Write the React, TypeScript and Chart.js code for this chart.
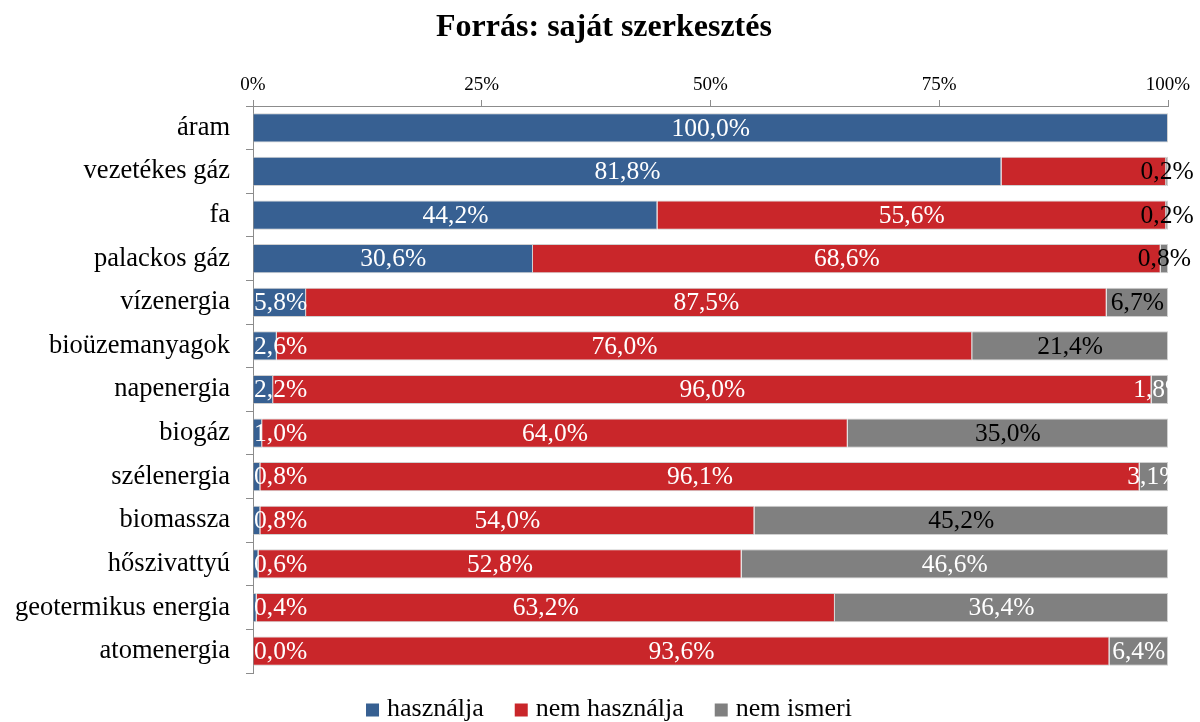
import React, { useEffect, useRef } from "react";
import { Chart, registerables } from "chart.js";

Chart.register(...registerables);

const categories = [
  "áram",
  "vezetékes gáz",
  "fa",
  "palackos gáz",
  "vízenergia",
  "bioüzemanyagok",
  "napenergia",
  "biogáz",
  "szélenergia",
  "biomassza",
  "hőszivattyú",
  "geotermikus energia",
  "atomenergia",
];

const hasznalja = [100.0, 81.8, 44.2, 30.6, 5.8, 2.6, 2.2, 1.0, 0.8, 0.8, 0.6, 0.4, 0.0];
const nemHasznalja = [0.0, 18.0, 55.6, 68.6, 87.5, 76.0, 96.0, 64.0, 96.1, 54.0, 52.8, 63.2, 93.6];
const nemIsmeri = [0.0, 0.2, 0.2, 0.8, 6.7, 21.4, 1.8, 35.0, 3.1, 45.2, 46.6, 36.4, 6.4];

// label text colours per series ("w" white, "k" black, "" hidden)
const hasznaljaLabelColors = ["w", "w", "w", "w", "w", "w", "w", "w", "w", "w", "w", "w", "w"];
const nemHasznaljaLabelColors = ["", "", "w", "w", "w", "w", "w", "w", "w", "w", "w", "w", "w"];
const nemIsmeriLabelColors = ["", "k", "k", "k", "k", "k", "w", "k", "w", "k", "w", "w", "w"];

const xTicks = ["0%", "25%", "50%", "75%", "100%"];

const titleText = "Forrás: saját szerkesztés";
const seriesNames = ["használja", "nem használja", "nem ismeri"];
const seriesColors = ["#376092", "#C9262A", "#808080"];

const SERIF = "'Liberation Serif', 'Times New Roman', serif";
const AXIS = "#8c8c8c";

const labelPlugin = {
  id: "segLabels",
  afterDatasetsDraw(chart: any) {
    const ctx = chart.ctx;
    const area = chart.chartArea;
    const colorSets = [hasznaljaLabelColors, nemHasznaljaLabelColors, nemIsmeriLabelColors];
    ctx.save();
    ctx.font = `25.5px ${SERIF}`;
    ctx.textAlign = "center";
    ctx.textBaseline = "middle";
    chart.data.datasets.forEach((ds: any, di: number) => {
      const meta = chart.getDatasetMeta(di);
      meta.data.forEach((el: any, i: number) => {
        const c = colorSets[di][i];
        if (!c) return;
        const v = ds.data[i] as number;
        const txt = v.toFixed(1).replace(".", ",") + "%";
        const w = ctx.measureText(txt).width;
        let cx = (el.x + el.base) / 2;
        if (c === "w") cx = Math.max(cx, area.left + w / 2 + 1);
        const cy = el.y + 1;
        ctx.save();
        if (c === "w") {
          ctx.beginPath();
          ctx.rect(area.left, area.top, area.right - area.left, area.bottom - area.top);
          ctx.clip();
        }
        ctx.fillStyle = c === "w" ? "#ffffff" : "#000000";
        ctx.fillText(txt, cx, cy);
        ctx.restore();
      });
    });
    ctx.restore();
  },
};

const titleLegendPlugin = {
  id: "titleLegend",
  afterDraw(chart: any) {
    const ctx = chart.ctx;
    ctx.save();
    // title
    ctx.font = `bold 32px ${SERIF}`;
    ctx.textAlign = "center";
    ctx.textBaseline = "alphabetic";
    ctx.fillStyle = "#000";
    ctx.fillText(titleText, 604, 36);
    // legend
    const box = 13;
    const gapBoxText = 8;
    const gapItems = 31;
    ctx.font = `26px ${SERIF}`;
    ctx.textBaseline = "middle";
    ctx.textAlign = "left";
    const widths = seriesNames.map((n) => box + gapBoxText + ctx.measureText(n).width);
    const total = widths.reduce((a, b) => a + b, 0) + gapItems * (seriesNames.length - 1);
    let x = 609 - total / 2;
    const y = 709;
    seriesNames.forEach((n, i) => {
      ctx.fillStyle = seriesColors[i];
      ctx.fillRect(x, y - box / 2 + 1, box, box);
      ctx.fillStyle = "#000";
      ctx.fillText(n, x + box + gapBoxText, y);
      x += widths[i] + gapItems;
    });
    ctx.restore();
  },
};

export default function App() {
  const ref = useRef<HTMLCanvasElement | null>(null);

  useEffect(() => {
    if (!ref.current) return;
    const values = [hasznalja, nemHasznalja, nemIsmeri];
    const chart = new Chart(ref.current, {
      type: "bar",
      data: {
        labels: categories,
        datasets: values.map((d, i) => ({
          label: seriesNames[i],
          data: d,
          backgroundColor: seriesColors[i],
          borderColor: "#d0d0d0",
          borderWidth: 1,
          barPercentage: 0.67,
          categoryPercentage: 1.0,
        })),
      },
      options: {
        indexAxis: "y",
        animation: false,
        responsive: true,
        maintainAspectRatio: false,
        layout: { padding: { left: 0, right: 32, top: 48.4, bottom: 49 } },
        plugins: {
          title: { display: false },
          legend: { display: false },
          tooltip: { enabled: false },
        },
        scales: {
          x: {
            position: "top",
            stacked: true,
            min: 0,
            max: 100,
            afterBuildTicks: (scale: any) => {
              scale.ticks = xTicks.map((t) => ({ value: parseFloat(t) }));
            },
            ticks: {
              color: "#000",
              font: { family: SERIF, size: 19 },
              padding: 4,
              callback: (v: any) => v + "%",
            },
            grid: {
              display: true,
              drawOnChartArea: false,
              drawTicks: true,
              tickLength: 6,
              color: AXIS,
            },
            border: { display: true, color: AXIS },
            afterFit: (scale: any) => {
              scale.height = 57.6;
            },
          },
          y: {
            stacked: true,
            ticks: {
              color: "#000",
              font: { family: SERIF, size: 26.5 },
              padding: 16,
            },
            grid: {
              display: true,
              offset: true,
              drawOnChartArea: false,
              drawTicks: true,
              tickLength: 7,
              color: AXIS,
            },
            border: { display: true, color: AXIS },
            afterFit: (scale: any) => {
              scale.width = 253;
            },
          },
        },
      },
      plugins: [labelPlugin, titleLegendPlugin],
    });
    return () => chart.destroy();
  }, []);

  return (
    <div style={{ position: "fixed", left: 0, top: 0, width: 1200, height: 722, background: "#fff" }}>
      <canvas ref={ref} />
    </div>
  );
}
